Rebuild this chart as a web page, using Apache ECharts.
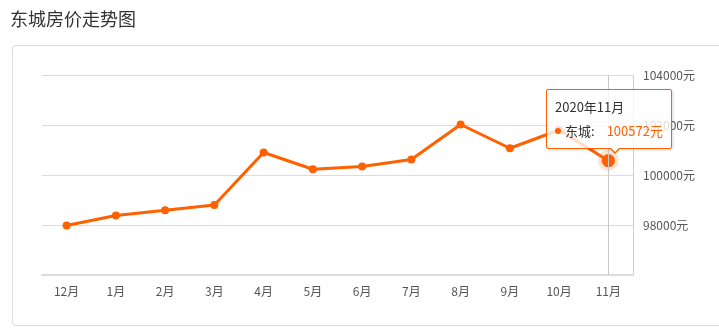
<!DOCTYPE html>
<html>
<head>
<meta charset="utf-8">
<script src="https://cdn.jsdelivr.net/npm/echarts@6/dist/echarts.min.js"></script>
<style>
  html, body { margin: 0; padding: 0; background: #fff; }
  #panel { position: absolute; left: 12px; top: 45px; width: 740px; height: 279px; border: 1px solid #dcdcdc; border-radius: 4px; }
  #chart { position: absolute; left: 0; top: 0; width: 719px; height: 332px; }
</style>
</head>
<body>
<div id="panel"></div>
<div id="chart"></div>
<script>
const title = '东城房价走势图';
const seriesName = '东城';
const months = ['12月','1月','2月','3月','4月','5月','6月','7月','8月','9月','10月','11月'];
const periods = ['2019年12月','2020年1月','2020年2月','2020年3月','2020年4月','2020年5月','2020年6月','2020年7月','2020年8月','2020年9月','2020年10月','2020年11月'];
const prices = [97980, 98380, 98590, 98800, 100900, 100230, 100340, 100620, 102020, 101070, 101800, 100572];
const yMin = 96000, yMax = 104000, yStep = 2000;
const unit = '元';

const lastIdx = prices.length - 1;
const halo = prices.map((v, i) => i === lastIdx ? v : null);

const chart = echarts.init(document.getElementById('chart'), null, { renderer: 'canvas' });
const orange = '#ff6000';
chart.setOption({
  animation: false,
  textStyle: { fontFamily: '"Noto Sans CJK SC", "Noto Sans", sans-serif' },
  title: {
    text: title, left: 5, top: 5,
    textStyle: { fontSize: 18, fontWeight: 'normal', color: '#333', fontFamily: '"Noto Sans CJK SC", sans-serif' }
  },
  grid: { left: 42, right: 86, top: 75, bottom: 57 },
  xAxis: {
    type: 'category', data: months, boundaryGap: true,
    axisLine: { lineStyle: { color: '#dcdcdc', width: 2 } },
    axisTick: { alignWithLabel: true, length: 4, lineStyle: { color: '#ccc' } },
    axisLabel: { color: '#555', fontSize: 12, margin: 10 }
  },
  yAxis: {
    type: 'value', position: 'right', min: yMin, max: yMax, interval: yStep,
    axisLine: { show: true, lineStyle: { color: '#d0d0d0', width: 1 } },
    axisTick: { show: false },
    axisLabel: { color: '#555', fontSize: 12, margin: 10, showMinLabel: false, formatter: v => v + unit },
    splitLine: { lineStyle: { color: '#dcdcdc' } }
  },
  tooltip: {
    trigger: 'axis',
    alwaysShowContent: true,
    showDelay: 0,
    transitionDuration: 0,
    backgroundColor: 'rgba(255,255,255,0.8)',
    borderColor: orange,
    borderWidth: 1,
    padding: [5, 8],
    extraCssText: 'border-radius:2px;box-shadow:1px 1px 3px rgba(0,0,0,0.15);overflow:visible;',
    axisPointer: { type: 'line', lineStyle: { color: '#c8c8c8', width: 1, type: 'solid' } },
    position: function (point, params, dom, rect, size) {
      const p = chart.convertToPixel({ seriesIndex: 0 }, [lastIdx, prices[lastIdx]]);
      return [p[0] - 62, p[1] - 72];
    },
    formatter: function (params) {
      const p = params.find(x => x.seriesIndex === 0) || params[0];
      const i = p.dataIndex;
      return '<div style="position:relative;font-size:13px;line-height:24px;color:#333;white-space:nowrap;">' +
        '<div>' + periods[i] + '</div>' +
        '<div><span style="display:inline-block;width:6px;height:6px;border-radius:3px;background:' + orange + ';margin-right:4px;vertical-align:2px;"></span>' +
        seriesName + ':<span style="color:' + orange + ';margin-left:12px;">' + prices[i] + unit + '</span></div>' +
        '<div style="position:absolute;left:54px;bottom:-11px;width:0;height:0;border-left:6px solid transparent;border-right:6px solid transparent;border-top:6px solid ' + orange + ';"></div>' +
        '<div style="position:absolute;left:55px;bottom:-9px;width:0;height:0;border-left:5px solid transparent;border-right:5px solid transparent;border-top:5px solid #fff;"></div>' +
        '</div>';
    }
  },
  series: [
    {
      name: seriesName, type: 'line', data: prices, z: 3,
      symbol: 'circle', symbolSize: 8,
      lineStyle: { color: orange, width: 3 },
      itemStyle: { color: orange },
      emphasis: { disabled: true },
      data: prices.map((v, i) => i === lastIdx ? { value: v, symbolSize: 12 } : v)
    },
    {
      name: 'halo', type: 'scatter', data: halo, z: 2,
      symbol: 'circle', symbolSize: 21,
      itemStyle: { color: 'rgba(255,110,30,0.25)' },
      emphasis: { disabled: true },
      tooltip: { show: false },
      silent: true
    }
  ]
});
chart.dispatchAction({ type: 'showTip', seriesIndex: 0, dataIndex: lastIdx });
</script>
</body>
</html>
